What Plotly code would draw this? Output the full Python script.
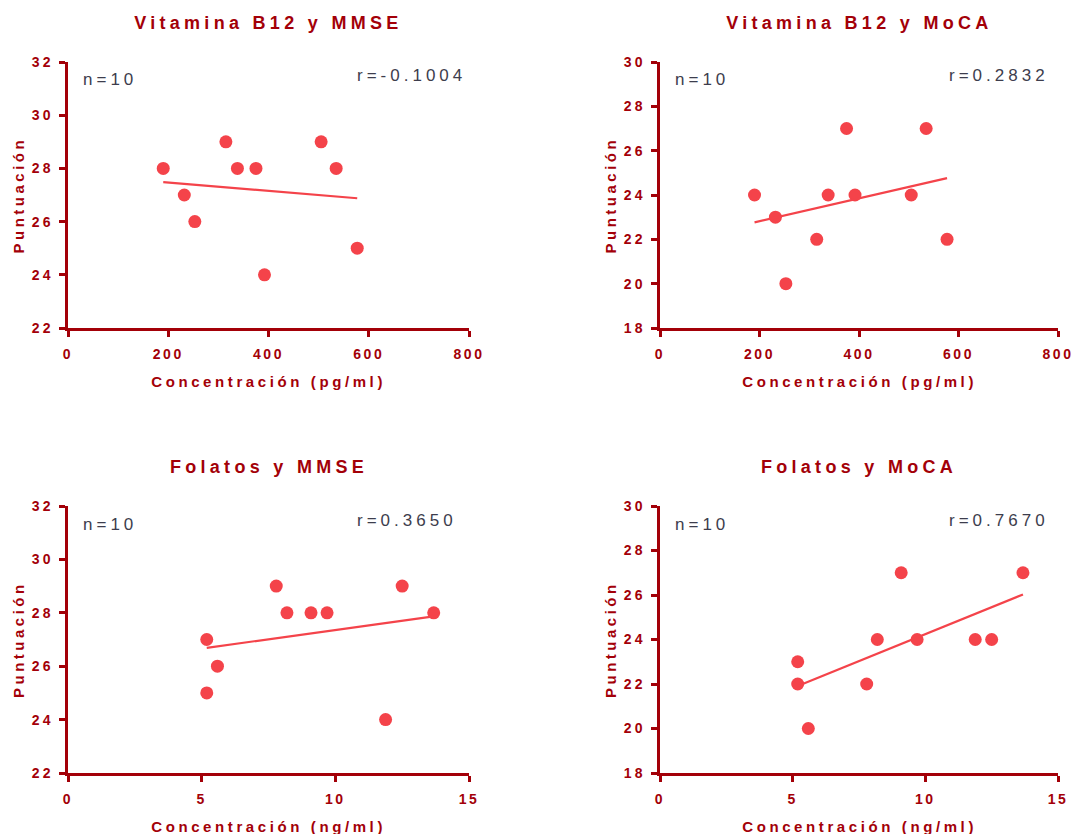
import numpy as np
import plotly.graph_objects as go

# ---------------- data ----------------
b12 = [190, 232, 253, 315, 338, 375, 392, 505, 535, 577]
b12_mmse = [28, 27, 26, 29, 28, 28, 24, 29, 28, 25]
b12_moca = [24, 23, 20, 22, 24, 27, 24, 24, 27, 22]

fol = [5.19, 5.19, 5.59, 7.79, 8.19, 9.09, 9.69, 11.88, 12.5, 13.68]
fol_mmse = [27, 25, 26, 29, 28, 28, 28, 24, 29, 28]
fol_moca = [23, 22, 20, 22, 24, 27, 24, 24, 24, 27]

titles = ["Vitamina B12 y MMSE", "Vitamina B12 y MoCA", "Folatos y MMSE", "Folatos y MoCA"]
xtitles = ["Concentración (pg/ml)", "Concentración (pg/ml)", "Concentración (ng/ml)", "Concentración (ng/ml)"]
ytitle = "Puntuación"
r_labels = ["r=-0.1004", "r=0.2832", "r=0.3650", "r=0.7670"]
n_label = "n=10"

x_ranges = [[0, 800], [0, 800], [0, 15], [0, 15]]
x_dticks = [200, 200, 5, 5]
y_ranges = [[22, 32], [18, 30], [22, 32], [18, 30]]

panels = [(b12, b12_mmse), (b12, b12_moca), (fol, fol_mmse), (fol, fol_moca)]

# ---------------- style ----------------
W, H = 1074, 834
DARK = "#a30008"
PT = "#f4434a"
GREY = "#3d3d4d"
FONT = "Liberation Sans, Arial, sans-serif"
# letter spacing per annotation kind: title, x title, y title, n, r
SPACING = [4.3, 3.6, 3.5, 4, 4]

# plot areas in pixels (left, right, top, bottom)
areas = [(68, 469, 62, 328), (660, 1058, 62, 328), (68, 469, 506, 773), (660, 1058, 506, 773)]

fig = go.Figure()
annotations = []
for i, ((xs, ys), (l, r, t, b)) in enumerate(zip(panels, areas)):
    k = "" if i == 0 else str(i + 1)
    xa, ya = "x" + k, "y" + k
    fig.add_trace(go.Scatter(x=xs, y=ys, mode="markers", xaxis=xa, yaxis=ya,
                             marker=dict(color=PT, size=13), showlegend=False))
    m, c = np.polyfit(xs, ys, 1)
    lx = np.array([min(xs), max(xs)])
    fig.add_trace(go.Scatter(x=lx, y=m * lx + c, mode="lines", xaxis=xa, yaxis=ya,
                             line=dict(color=PT, width=2.2), showlegend=False))
    axis_common = dict(showline=True, linecolor=DARK, linewidth=2.5, ticks="outside",
                       tickcolor=DARK, tickwidth=2.5, ticklen=6, showgrid=False,
                       zeroline=False, mirror=False, automargin=False,
                       tickfont=dict(family=FONT, size=14, color=DARK, weight="bold"))
    fig.layout["xaxis" + k] = dict(domain=[l / W, r / W], range=x_ranges[i], dtick=x_dticks[i],
                                   tick0=0, anchor=ya, ticklabelstandoff=5, **axis_common)
    fig.layout["yaxis" + k] = dict(domain=[1 - b / H, 1 - t / H], range=y_ranges[i], dtick=2,
                                   tick0=0, anchor=xa, ticklabelstandoff=3, **axis_common)
    cx = (l + r) / 2
    annotations.append(dict(text=titles[i], x=(cx - 0) / W, y=1 - (t - 39) / H, xref="paper", yref="paper",
                            showarrow=False, xanchor="center", yanchor="middle",
                            font=dict(family=FONT, size=18, color=DARK, weight="bold")))
    annotations.append(dict(text=xtitles[i], x=cx / W, y=1 - (b + 53) / H, xref="paper", yref="paper",
                            showarrow=False, xanchor="center", yanchor="middle",
                            font=dict(family=FONT, size=15, color=DARK, weight="bold")))
    annotations.append(dict(text=ytitle, x=(l - 50) / W, y=1 - ((t + b) / 2 - 0) / H, xref="paper", yref="paper",
                            showarrow=False, xanchor="center", yanchor="middle", textangle=-90,
                            font=dict(family=FONT, size=15, color=DARK, weight="bold")))
    annotations.append(dict(text=n_label, x=(l + 13 + len(n_label) * SPACING[3] / 2) / W, y=1 - (t + 18) / H,
                            xref="paper", yref="paper",
                            showarrow=False, xanchor="left", yanchor="middle",
                            font=dict(family=FONT, size=17, color=GREY)))
    annotations.append(dict(text=r_labels[i], x=(l + 287 + len(r_labels[i]) * SPACING[4] / 2) / W, y=1 - (t + 14) / H,
                            xref="paper", yref="paper",
                            showarrow=False, xanchor="left", yanchor="middle",
                            font=dict(family=FONT, size=17, color=GREY)))

fig.update_layout(width=W, height=H, margin=dict(l=0, r=0, t=0, b=0, autoexpand=False),
                  paper_bgcolor="white", plot_bgcolor="white", annotations=annotations)

rules = ["html,body{margin:0;padding:0;overflow:hidden}",
         ".xtick text,.x2tick text,.x3tick text,.x4tick text{letter-spacing:2.5px}",
         ".ytick text,.y2tick text,.y3tick text,.y4tick text{letter-spacing:3px}"]
for idx in range(len(annotations)):
    rules.append('g.annotation[data-index="%d"] text{letter-spacing:%spx}' % (idx, SPACING[idx % 5]))
css = "<style>" + "".join(rules) + "</style>"
post = "document.head.insertAdjacentHTML('beforeend', '" + css + "');"
fig.write_html("out.html", post_script=post)
